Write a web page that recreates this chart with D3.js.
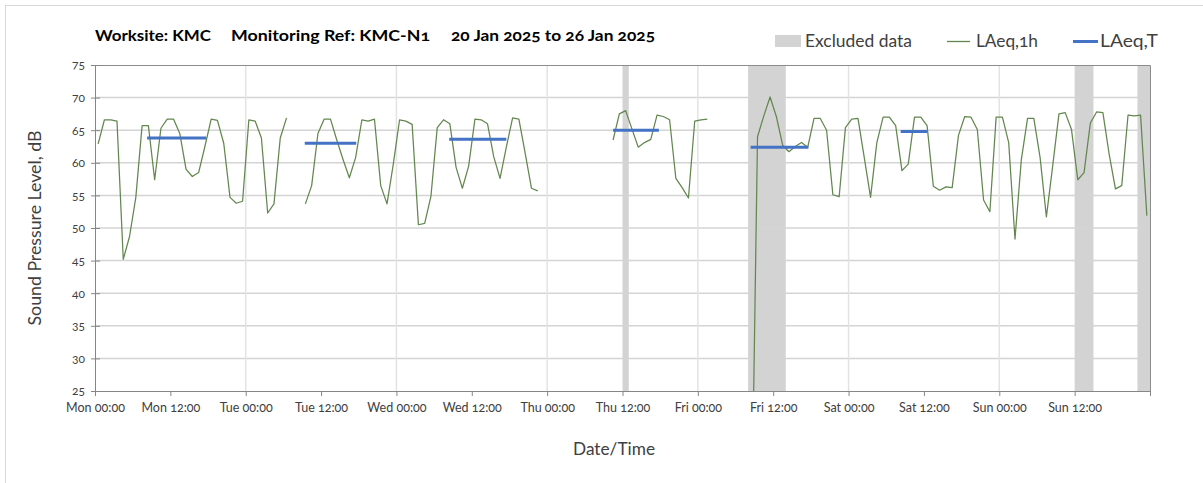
<!DOCTYPE html>
<html>
<head>
<meta charset="utf-8">
<script src="https://cdn.jsdelivr.net/npm/d3@7"></script>
<style>
  html, body { margin: 0; padding: 0; background: #fff; }
  svg { display: block; font-family: Lato, "Open Sans", sans-serif; font-variant-numeric: oldstyle-nums; }
</style>
</head>
<body>
<svg id="chart" width="1203" height="483"></svg>
<script>
// ---------------- DATA ----------------
const startDate = "2025-01-20T00:00:00Z";
const titleParts = ["Worksite: KMC", "Monitoring Ref: KMC-N1", "20 Jan 2025 to 26 Jan 2025"];
const yTicks = [25, 30, 35, 40, 45, 50, 55, 60, 65, 70, 75];
const tickDayNames = ["Mon", "Tue", "Wed", "Thu", "Fri", "Sat", "Sun"];
const legendLabels = ["Excluded data", "LAeq,1h", "LAeq,T"];

// LAeq,1h values, one per hour from Mon 00:00 (null = no data)
const laeq1h = [
  62.9, 66.6, 66.6, 66.4, 45.2, 48.7, 54.7, 65.7, 65.7, 57.4, 65.3, 66.7, 66.7, 64.5, 59.0, 57.9,
  58.5, 62.5, 66.7, 66.5, 63.0, 54.7, 53.8, 54.1,
  66.6, 66.4, 63.8, 52.3, 53.7, 63.8, 66.9, null, null, 53.7, 56.5, 64.5, 66.7, 66.7, 63.5, 60.5,
  57.7, 60.8, 66.6, 66.4, 66.7, 56.5, 53.7, 59.8,
  66.6, 66.4, 65.9, 50.5, 50.7, 54.9, 65.4, 66.6, 66.0, 59.3, 56.1, 59.5, 66.7, 66.6, 66.0, 60.9,
  57.6, 62.4, 66.9, 66.7, 61.5, 56.1, 55.7, null,
  null, null, null, null, null, null, null, null, null, null, 63.5, 67.5, 68.0, 65.2, 62.4, 63.1,
  63.6, 67.3, 67.1, 66.6, 57.6, 56.2, 54.6, 66.4,
  66.6, 66.7, null, null, null, null, null, null, 0, 64.0, 67.2, 70.1, 67.1, 62.7, 61.7, 62.5,
  63.1, 62.4, 66.8, 66.8, 65.0, 55.1, 54.8, 65.4,
  66.7, 66.8, 60.8, 54.7, 63.1, 67.0, 67.0, 65.7, 58.8, 59.8, 67.0, 67.0, 65.7, 56.4, 55.8, 56.3,
  56.2, 64.2, 67.1, 67.0, 65.1, 54.3, 52.5, 67.0,
  67.0, 63.1, 48.3, 60.4, 66.8, 66.8, 60.8, 51.7, 59.5, 67.5, 67.7, 65.1, 57.4, 58.5, 66.1, 67.8,
  67.7, 61.3, 56.0, 56.5, 67.3, 67.2, 67.3, 51.9
];

// LAeq,T periods (hours from Mon 00:00) and levels
const laeqTStart = [8.3, 33.4, 56.4, 82.5, 104.4, 128.3];
const laeqTEnd   = [17.7, 41.6, 65.5, 89.8, 113.6, 132.5];
const laeqT      = [63.8, 63.0, 63.6, 65.0, 62.4, 64.8];

// Excluded data periods (hours from Mon 00:00)
const excludedStart = [84, 104, 156, 166];
const excludedEnd   = [85, 110, 159, 168];

// ---------------- CHART ----------------
const svg = d3.select("#chart");
const W = 1203, H = 483;
const m = { left: 95, right: 1150, top: 65, bottom: 391 };

const t0 = new Date(startDate);
const hr = h => new Date(t0.getTime() + h * 3600e3);

const x = d3.scaleUtc().domain([hr(0), hr(168)]).range([m.left, m.right]);
const y = d3.scaleLinear().domain([25, 75]).range([m.bottom, m.top]);

const textCol = "#404040";
const greenCol = "#62874f";
const blueCol = "#4472c4";
const greyCol = "#d3d3d3";

// outer chart border
svg.append("rect").attr("x", 5.5).attr("y", 5.5).attr("width", W).attr("height", H)
  .attr("fill", "none").attr("stroke", "#d9d9d9").attr("stroke-width", 1);

// excluded bands
svg.append("g").selectAll("rect").data(excludedStart.map((s, i) => [s, excludedEnd[i]]))
  .join("rect")
  .attr("x", d => x(hr(d[0])))
  .attr("width", d => x(hr(d[1])) - x(hr(d[0])))
  .attr("y", m.top).attr("height", m.bottom - m.top)
  .attr("fill", greyCol);

// horizontal gridlines
svg.append("g").selectAll("line").data(yTicks.slice(1, -1)).join("line")
  .attr("x1", m.left).attr("x2", m.right)
  .attr("y1", d => y(d)).attr("y2", d => y(d))
  .attr("stroke", "#d4d4d4").attr("stroke-width", 1.5);

// vertical gridlines (each day)
const dayTicks = d3.range(1, 7).map(d => hr(d * 24));
svg.append("g").selectAll("line").data(dayTicks).join("line")
  .attr("x1", d => x(d)).attr("x2", d => x(d))
  .attr("y1", m.top).attr("y2", m.bottom)
  .attr("stroke", "#e3e3e3").attr("stroke-width", 1.5);

// plot border top & right
svg.append("path")
  .attr("d", `M${m.left},${m.top + 0.5}H${m.right + 0.5}V${m.bottom}`)
  .attr("fill", "none").attr("stroke", "#8c8c8c").attr("stroke-width", 1);

// clip
svg.append("clipPath").attr("id", "clip").append("rect")
  .attr("x", m.left).attr("y", m.top).attr("width", m.right - m.left).attr("height", m.bottom - m.top);

// LAeq,1h line
const pts = laeq1h.map((v, i) => ({ t: hr(i + 0.5), v }));
const line = d3.line().defined(d => d.v !== null).x(d => x(d.t)).y(d => y(d.v));
svg.append("path").datum(pts).attr("clip-path", "url(#clip)")
  .attr("d", line).attr("fill", "none")
  .attr("stroke", greenCol).attr("stroke-width", 1.25).attr("stroke-linejoin", "round");

// LAeq,T segments
svg.append("g").selectAll("line").data(laeqT.map((v, i) => ({ s: laeqTStart[i], e: laeqTEnd[i], v })))
  .join("line")
  .attr("x1", d => x(hr(d.s))).attr("x2", d => x(hr(d.e)))
  .attr("y1", d => y(d.v)).attr("y2", d => y(d.v))
  .attr("stroke", blueCol).attr("stroke-width", 3);

// Y axis
const yAxis = svg.append("g").attr("transform", `translate(${m.left},0)`)
  .call(d3.axisLeft(y).tickValues(yTicks).tickSize(4).tickPadding(8).tickFormat(d3.format("d")));
yAxis.select(".domain").attr("stroke", "#868686");
yAxis.selectAll(".tick line").attr("stroke", "#868686").attr("x2", 5).attr("x1", -4);
yAxis.selectAll(".tick text").attr("fill", textCol).style("font-size", "12px")
  .style("font-family", "Lato, sans-serif").attr("x", -10);

// X axis
const xTickVals = d3.range(0, 15).map(i => hr(i * 12));
const fmt = d => {
  const h = Math.round((d - t0) / 3600e3);
  if (h >= 168) return "";
  return tickDayNames[Math.floor(h / 24)] + " " + d3.utcFormat("%H:%M")(d);
};
const xAxis = svg.append("g").attr("transform", `translate(0,${m.bottom})`)
  .call(d3.axisBottom(x).tickValues(xTickVals).tickSize(5).tickPadding(7).tickFormat(fmt));
xAxis.select(".domain").attr("stroke", "#868686");
xAxis.selectAll(".tick line").attr("stroke", "#868686");
xAxis.selectAll(".tick text").attr("fill", textCol).style("font-size", "12.5px")
  .style("font-family", "Lato, sans-serif");

// Axis titles
svg.append("text").attr("transform", `translate(41,228) rotate(-90)`)
  .attr("text-anchor", "middle").attr("fill", textCol)
  .attr("textLength", 195).attr("lengthAdjust", "spacingAndGlyphs")
  .style("font-size", "17px").text("Sound Pressure Level, dB");
svg.append("text").attr("x", 573).attr("y", 455)
  .attr("textLength", 82).attr("lengthAdjust", "spacingAndGlyphs")
  .attr("fill", textCol).style("font-size", "17px").text("Date/Time");

// Title
const titleX = [95, 231, 451];
const titleW = [116, 199, 204];
svg.append("g").selectAll("text").data(titleParts).join("text")
  .attr("x", (d, i) => titleX[i]).attr("y", 41)
  .attr("textLength", (d, i) => titleW[i]).attr("lengthAdjust", "spacingAndGlyphs")
  .attr("fill", "#000").style("font-size", "15.5px").style("font-weight", "bold")
  .text(d => d);

// Legend
const lg = svg.append("g");
const legX = [805, 976, 1100];
const legW = [107, 62, 58];
lg.append("rect").attr("x", 775).attr("y", 35).attr("width", 26).attr("height", 12).attr("fill", greyCol);
lg.append("line").attr("x1", 947).attr("x2", 970).attr("y1", 41.5).attr("y2", 41.5)
  .attr("stroke", greenCol).attr("stroke-width", 1.3);
lg.append("line").attr("x1", 1073).attr("x2", 1098).attr("y1", 41.5).attr("y2", 41.5)
  .attr("stroke", blueCol).attr("stroke-width", 3);
lg.selectAll("text.leg").data(legendLabels).join("text").attr("class", "leg")
  .attr("x", (d, i) => legX[i]).attr("y", 47)
  .attr("textLength", (d, i) => legW[i]).attr("lengthAdjust", "spacingAndGlyphs")
  .attr("fill", textCol).style("font-size", "16.5px").text(d => d);
</script>
</body>
</html>
